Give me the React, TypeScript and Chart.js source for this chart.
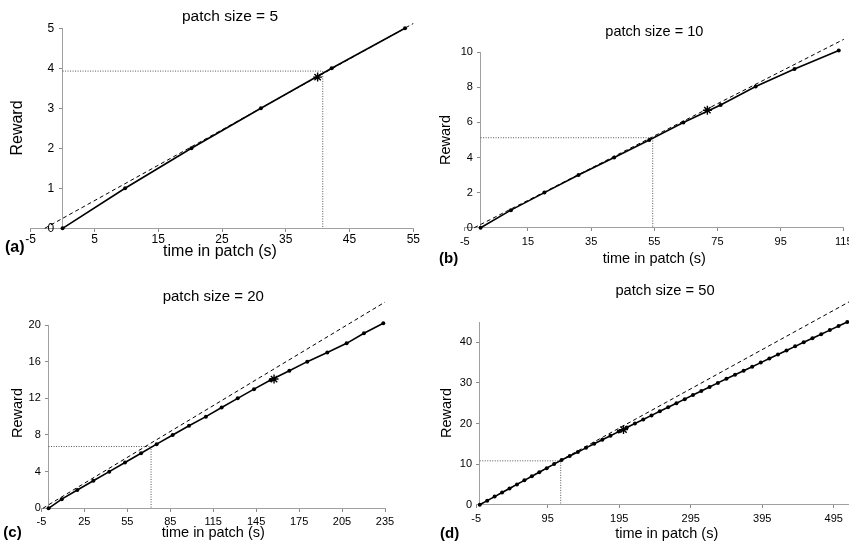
import React, { useEffect, useRef } from 'react';
import { Chart, registerables } from 'chart.js';

Chart.register(...registerables);

const FONT = '"Liberation Sans", Arial, Helvetica, sans-serif';

// ---------- (a) patch size = 5
const A_TIME = [0, 9.8, 20.2, 31.1, 42.2, 53.7];
const A_REWARD = [0, 1, 2, 3, 4, 5];
const A_TANGENT_TIME = [-2.8, 55];
const A_TANGENT_REWARD = [0, 5.12];
const A_GUIDE_TIME = [0, 40.8, 40.8];
const A_GUIDE_REWARD = [3.93, 3.93, 0];
const A_LEAVE_TIME = [40];
const A_LEAVE_REWARD = [3.78];
const A_X_TICKS = [-5, 5, 15, 25, 35, 45, 55];
const A_Y_TICKS = [0, 1, 2, 3, 4, 5];

// ---------- (b) patch size = 10
const B_TIME = [0, 9.6, 20.2, 31, 42.3, 53.4, 64.2, 76, 87.1, 99.4, 113.4];
const B_REWARD = [0, 1, 2, 3, 4, 5, 6, 7, 8.05, 9.05, 10.1];
const B_TANGENT_TIME = [-2, 115];
const B_TANGENT_REWARD = [0, 10.74];
const B_GUIDE_TIME = [0, 54.5, 54.5];
const B_GUIDE_REWARD = [5.13, 5.13, 0];
const B_LEAVE_TIME = [71.8];
const B_LEAVE_REWARD = [6.7];
const B_X_TICKS = [-5, 15, 35, 55, 75, 95, 115];
const B_Y_TICKS = [0, 2, 4, 6, 8, 10];

// ---------- (c) patch size = 20
const C_TIME = [0, 9.2, 20.1, 31.3, 42.4, 53.4, 64.6, 75.5, 86.7, 98.1, 109.9, 120.9, 132.1, 143.5, 155.1, 168.2, 180.7, 194.7, 208.2, 220.3, 233.8];
const C_REWARD = [0, 1, 2, 3, 4, 5, 6, 7, 8, 9, 10, 11, 12, 13, 14, 15, 16, 17, 18, 19.1, 20.2];
const C_TANGENT_TIME = [-4, 235];
const C_TANGENT_REWARD = [0, 22.5];
const C_GUIDE_TIME = [0, 71.6, 71.6];
const C_GUIDE_REWARD = [6.74, 6.74, 0];
const C_LEAVE_TIME = [157.5];
const C_LEAVE_REWARD = [14.1];
const C_X_TICKS = [-5, 25, 55, 85, 115, 145, 175, 205, 235];
const C_Y_TICKS = [0, 4, 8, 12, 16, 20];

// ---------- (d) patch size = 50
const D_TIME = [0, 10.4, 20.8, 31.2, 41.6, 52, 62.4, 72.8, 83.2, 93.6, 104, 114.4, 125.8, 137.2, 148.6, 160, 171.4, 182.8, 194.2, 205.6, 217, 228.6, 240.2, 251.8, 263.4, 275, 286.6, 298.2, 309.8, 321.4, 333, 345, 357, 369, 381, 393, 405, 417, 429, 441, 453, 465.2, 477.4, 489.6, 501.8, 514];
const D_REWARD = [0, 1, 2, 3, 4, 5, 6, 7, 8, 9, 10, 11, 12, 13, 14, 15, 16, 17, 18, 19, 20, 21, 22, 23, 24, 25, 26, 27, 28, 29, 30, 31, 32, 33, 34, 35, 36, 37, 38, 39, 40, 41, 42, 43, 44, 45];
const D_TANGENT_TIME = [0, 520];
const D_TANGENT_REWARD = [0, 50.3];
const D_GUIDE_TIME = [0, 113.2, 113.2];
const D_GUIDE_REWARD = [10.8, 10.8, 0];
const D_LEAVE_TIME = [201];
const D_LEAVE_REWARD = [18.5];
const D_X_TICKS = [-5, 95, 195, 295, 395, 495];
const D_Y_TICKS = [0, 10, 20, 30, 40];

const TITLES = ['patch size = 5', 'patch size = 10', 'patch size = 20', 'patch size = 50'];
const LETTERS = ['(a)', '(b)', '(c)', '(d)'];
const X_TITLE = 'time in patch (s)';
const Y_TITLE = 'Reward';

type TextItem = { text: string; x: number; y: number; size: number; bold?: boolean; rotate?: boolean; align?: CanvasTextAlign };

type Spec = {
  left: number; top: number; w: number; h: number;
  padding: { left: number; right: number; top: number; bottom: number };
  xMin: number; xMax: number; yMax: number;
  xTicks: number[]; yTicks: number[];
  time: number[]; reward: number[];
  tanT: number[]; tanR: number[];
  guideT: number[]; guideR: number[];
  starT: number[]; starR: number[];
  tickSize: number; xPad: number; dot: number;
  texts: TextItem[];
};

const SPECS: Spec[] = [
  {
    left: 0, top: 0, w: 425, h: 273,
    padding: { left: 30.7, right: 11.7, top: 28.3, bottom: 44.7 },
    xMin: -5, xMax: 55, yMax: 5, xTicks: A_X_TICKS, yTicks: A_Y_TICKS,
    time: A_TIME, reward: A_REWARD, tanT: A_TANGENT_TIME, tanR: A_TANGENT_REWARD,
    guideT: A_GUIDE_TIME, guideR: A_GUIDE_REWARD, starT: A_LEAVE_TIME, starR: A_LEAVE_REWARD,
    tickSize: 12, xPad: 1.5, dot: 2,
    texts: [
      { text: TITLES[0], x: 230, y: 21, size: 15.5 },
      { text: Y_TITLE, x: 21.5, y: 128, size: 16, rotate: true },
      { text: X_TITLE, x: 220, y: 255.5, size: 16 },
      { text: LETTERS[0], x: 5, y: 252, size: 16, bold: true, align: 'left' },
    ],
  },
  {
    left: 425, top: 0, w: 440, h: 273,
    padding: { left: 39.8, right: 21.2, top: 52.3, bottom: 45.3 },
    xMin: -5, xMax: 115, yMax: 10, xTicks: B_X_TICKS, yTicks: B_Y_TICKS,
    time: B_TIME, reward: B_REWARD, tanT: B_TANGENT_TIME, tanR: B_TANGENT_REWARD,
    guideT: B_GUIDE_TIME, guideR: B_GUIDE_REWARD, starT: B_LEAVE_TIME, starR: B_LEAVE_REWARD,
    tickSize: 11, xPad: 5, dot: 2,
    texts: [
      { text: TITLES[1], x: 229.3, y: 35.5, size: 14.5 },
      { text: Y_TITLE, x: 25, y: 140, size: 14.5, rotate: true },
      { text: X_TITLE, x: 229.3, y: 263, size: 14.5 },
      { text: LETTERS[1], x: 14, y: 263, size: 15, bold: true, align: 'left' },
    ],
  },
  {
    left: 0, top: 273, w: 425, h: 273,
    padding: { left: 41.4, right: 40, top: 52, bottom: 37.7 },
    xMin: -5, xMax: 235, yMax: 20, xTicks: C_X_TICKS, yTicks: C_Y_TICKS,
    time: C_TIME, reward: C_REWARD, tanT: C_TANGENT_TIME, tanR: C_TANGENT_REWARD,
    guideT: C_GUIDE_TIME, guideR: C_GUIDE_REWARD, starT: C_LEAVE_TIME, starR: C_LEAVE_REWARD,
    tickSize: 11, xPad: 4.5, dot: 2,
    texts: [
      { text: TITLES[2], x: 213.3, y: 27.7, size: 15 },
      { text: Y_TITLE, x: 21.7, y: 140, size: 14.5, rotate: true },
      { text: X_TITLE, x: 213.3, y: 264, size: 14.5 },
      { text: LETTERS[2], x: 3.3, y: 263.5, size: 15, bold: true, align: 'left' },
    ],
  },
  {
    left: 425, top: 273, w: 440, h: 273,
    padding: { left: 51.2, right: 13.4, top: 49, bottom: 41.3 },
    xMin: -5, xMax: 520, yMax: 45, xTicks: D_X_TICKS, yTicks: D_Y_TICKS,
    time: D_TIME, reward: D_REWARD, tanT: D_TANGENT_TIME, tanR: D_TANGENT_REWARD,
    guideT: D_GUIDE_TIME, guideR: D_GUIDE_REWARD, starT: D_LEAVE_TIME, starR: D_LEAVE_REWARD,
    tickSize: 11, xPad: 4.5, dot: 2,
    texts: [
      { text: TITLES[3], x: 240, y: 21.7, size: 14.7 },
      { text: Y_TITLE, x: 26, y: 140, size: 14.5, rotate: true },
      { text: X_TITLE, x: 241.7, y: 265, size: 14.5 },
      { text: LETTERS[3], x: 15, y: 264.5, size: 15, bold: true, align: 'left' },
    ],
  },
];

function textPlugin(texts: TextItem[]) {
  return {
    id: 'panelTexts',
    afterDraw(chart: any) {
      const ctx: CanvasRenderingContext2D = chart.ctx;
      texts.forEach((t) => {
        ctx.save();
        ctx.font = `${t.bold ? 'bold ' : ''}${t.size}px ${FONT}`;
        ctx.fillStyle = '#000';
        ctx.textBaseline = 'alphabetic';
        ctx.textAlign = t.align || 'center';
        ctx.translate(t.x, t.y);
        if (t.rotate) ctx.rotate(-Math.PI / 2);
        ctx.fillText(t.text, 0, 0);
        ctx.restore();
      });
    },
  };
}

function buildConfig(s: Spec): any {
  const pts = (xs: number[], ys: number[]) => xs.map((x, i) => ({ x, y: ys[i] }));
  const grid = { drawOnChartArea: false, drawTicks: true, tickLength: 3, color: '#8a8a8a' };
  const border = { display: true, color: '#a0a0a0', width: 1 };
  return {
    type: 'scatter',
    data: {
      datasets: [
        { label: 'leave', data: pts(s.starT, s.starR), showLine: false, pointStyle: 'star', pointRadius: 4.5, pointBorderColor: '#000', pointBackgroundColor: '#000', pointBorderWidth: 1.4, clip: false },
        { label: 'reward', data: pts(s.time, s.reward), showLine: true, borderColor: '#000', borderWidth: 1.6, pointRadius: s.dot, pointBackgroundColor: '#000', pointBorderColor: '#000', pointBorderWidth: 0, clip: false },
        { label: 'tangent', data: pts(s.tanT, s.tanR), showLine: true, borderColor: '#000', borderWidth: 1, borderDash: [4, 3], pointRadius: 0, clip: false },
        { label: 'guide', data: pts(s.guideT, s.guideR), showLine: true, borderColor: '#555', borderWidth: 1, borderDash: [1, 1.5], pointRadius: 0, clip: false },
      ],
    },
    options: {
      animation: false,
      responsive: false,
      devicePixelRatio: 1,
      events: [],
      layout: { padding: s.padding },
      plugins: { legend: { display: false }, tooltip: { enabled: false }, title: { display: false } },
      scales: {
        x: {
          type: 'linear', min: s.xMin, max: s.xMax, position: { y: 0 },
          afterBuildTicks: (sc: any) => { sc.ticks = s.xTicks.map((v) => ({ value: v })); },
          grid, border,
          ticks: { font: { family: FONT, size: s.tickSize }, color: '#000', padding: s.xPad, maxRotation: 0, minRotation: 0, autoSkip: false, callback: (v: any) => String(v) },
        },
        y: {
          type: 'linear', min: 0, max: s.yMax, position: { x: 0 },
          afterBuildTicks: (sc: any) => { sc.ticks = s.yTicks.map((v) => ({ value: v })); },
          grid, border,
          ticks: { font: { family: FONT, size: s.tickSize }, color: '#000', autoSkip: false, callback: (v: any) => String(v) + '\u2002\u2009' },
        },
      },
    },
    plugins: [textPlugin(s.texts)],
  };
}

function Panel({ spec }: { spec: Spec }) {
  const ref = useRef<HTMLCanvasElement>(null);
  useEffect(() => {
    if (!ref.current) return;
    const chart = new Chart(ref.current, buildConfig(spec));
    return () => chart.destroy();
  }, [spec]);
  return (
    <canvas
      ref={ref}
      width={spec.w}
      height={spec.h}
      style={{ position: 'absolute', left: spec.left, top: spec.top, width: spec.w, height: spec.h }}
    />
  );
}

export default function App() {
  useEffect(() => {
    document.body.style.margin = '0';
  }, []);
  return (
    <div style={{ position: 'absolute', left: 0, top: 0, width: 849, height: 546, overflow: 'hidden', background: '#fff' }}>
      {SPECS.map((s, i) => (
        <Panel key={i} spec={s} />
      ))}
    </div>
  );
}
